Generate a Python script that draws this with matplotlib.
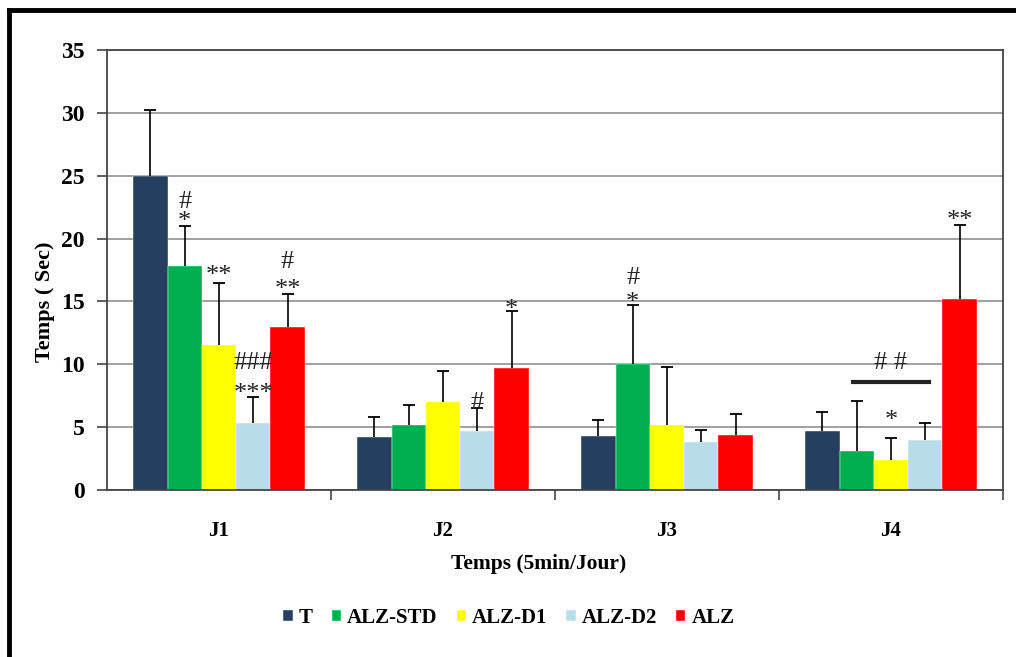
import matplotlib.pyplot as plt
import numpy as np
from matplotlib.lines import Line2D

plt.rcParams["font.family"] = ["Liberation Serif", "DejaVu Serif"]

days = ["J1", "J2", "J3", "J4"]
groups = ["T", "ALZ-STD", "ALZ-D1", "ALZ-D2", "ALZ"]
colors = ["#243F60", "#00B050", "#FFFF00", "#B7DDE8", "#FF0000"]

# mean time (s) per day for each group, and the upper error bar
t_mean = [25.0, 4.2, 4.3, 4.7]
std_mean = [17.8, 5.2, 10.0, 3.1]
d1_mean = [11.5, 7.0, 5.2, 2.4]
d2_mean = [5.3, 4.7, 3.8, 4.0]
alz_mean = [13.0, 9.7, 4.4, 15.2]

t_err = [5.2, 1.6, 1.25, 1.5]
std_err = [3.2, 1.6, 4.7, 4.0]
d1_err = [5.0, 2.5, 4.6, 1.75]
d2_err = [2.1, 1.85, 1.0, 1.3]
alz_err = [2.6, 4.5, 1.65, 5.9]

means = [t_mean, std_mean, d1_mean, d2_mean, alz_mean]
errs = [t_err, std_err, d1_err, d2_err, alz_err]

# significance marks: (text, day index, group index, y)
marks = [
    ("#", 0, 1, 22.9), ("*", 0, 1, 21.3),
    ("**", 0, 2, 17.0),
    ("###", 0, 3, 10.1), ("***", 0, 3, 7.6),
    ("#", 0, 4, 18.1), ("**", 0, 4, 15.9),
    ("#", 1, 3, 6.9),
    ("*", 1, 4, 14.3),
    ("#", 2, 1, 16.9), ("*", 2, 1, 14.9),
    ("*", 3, 2, 5.5),
    ("**", 3, 4, 21.4),
]

fig = plt.figure(figsize=(10.16, 6.57), dpi=100)
ax = fig.add_axes([0.1053, 0.2542, 0.8819, 0.6697])

x = np.arange(len(days))
width = 0.153
for i, (m, e) in enumerate(zip(means, errs)):
    pos = x + (i - 2) * width
    m = np.array(m)
    top = m + np.array(e)
    ax.bar(pos, m, width, color=colors[i], label=groups[i], zorder=2,
           edgecolor="white", linewidth=0.3)
    # upper-only error bars with a cap at the top
    ax.vlines(pos, m, top, color="black", lw=1.2, zorder=3)
    ax.plot(pos, top, ls="none", marker="_", markersize=9, mew=1.3,
            color="black", zorder=3)

for txt, d, g, y in marks:
    xp = x[d] + (g - 2) * width
    ax.text(xp, y, txt, ha="center", va="center", fontsize=19,
            color="#222222", zorder=4)

# bracket over ALZ-STD..ALZ-D2 on day 4
ax.plot([x[3] - 1.1 * width, x[3] + 1.1 * width], [8.6, 8.6],
        color="#222222", lw=3, zorder=4)
ax.text(x[3], 10.1, "# #", ha="center", va="center", fontsize=19, color="#222222")

ax.set_xlim(-0.5, 3.5)
ax.set_ylim(0, 35)
ax.set_yticks(np.arange(0, 36, 5))
ax.yaxis.grid(True, color="#999999", linewidth=1.3, zorder=0)
ax.set_axisbelow(True)

ax.set_xticks(x)
ax.set_xticklabels(days, fontsize=15, fontweight="bold")
ax.tick_params(axis="x", which="major", length=0, pad=22)
ax.set_xticks(np.arange(0.5, 3.6, 1), minor=True)
ax.tick_params(axis="x", which="minor", length=7, width=1.2, color="#444444")
ax.tick_params(axis="y", length=7, width=1.2, color="#444444", pad=9, labelsize=17)
for lab in ax.get_yticklabels():
    lab.set_fontweight("bold")

for s in ax.spines.values():
    s.set_color("#444444")
    s.set_linewidth(1.3)

fig.text(0.044, 0.54, "Temps ( Sec)", rotation=90, ha="center", va="center",
         fontsize=16, fontweight="bold")
fig.text(0.53, 0.142, "Temps (5min/Jour)", ha="center", va="center",
         fontsize=15.5, fontweight="bold")

fig.legend(loc="center", bbox_to_anchor=(0.501, 0.059), ncol=5, frameon=False,
           prop={"size": 15, "weight": "bold"}, handlelength=0.45, handleheight=0.45,
           handletextpad=0.3, columnspacing=0.9)

# outer frame (only left and top edges fall inside the image)
fig.add_artist(Line2D([0.009, 0.009], [0.0, 0.985], color="black", lw=3.5))
fig.add_artist(Line2D([0.009, 1.0], [0.985, 0.985], color="black", lw=3.5))

fig.savefig("out.png", dpi=100, facecolor="white")
